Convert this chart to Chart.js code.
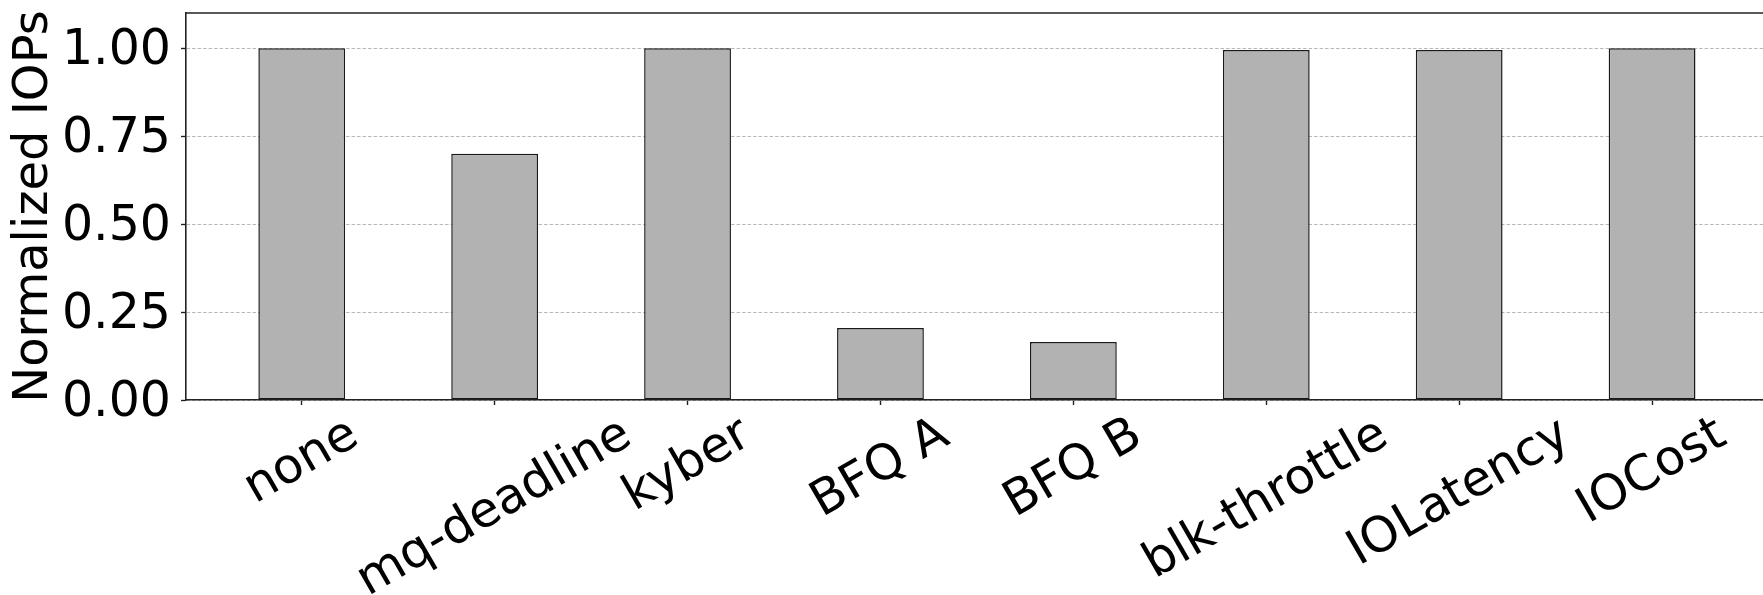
<!DOCTYPE html>
<html>
<head>
<meta charset="utf-8">
<script src="https://cdn.jsdelivr.net/npm/chart.js@4/dist/chart.umd.min.js"></script>
<style>
  html, body { margin: 0; padding: 0; background: #ffffff; }
  #wrap { width: 1763px; height: 595px; }
</style>
</head>
<body>
<div id="wrap"><canvas id="chart" width="1763" height="595"></canvas></div>
<script>
// I/O schedulers / controllers and their normalized IOPS
const schedulers = ['none', 'mq-deadline', 'kyber', 'BFQ A', 'BFQ B', 'blk-throttle', 'IOLatency', 'IOCost'];
const normalizedIops = [1.0, 0.70, 1.0, 0.205, 0.165, 0.995, 0.995, 1.0];
const yTickValues = [0, 0.25, 0.5, 0.75, 1.0];
const yTitle = 'Normalized IOPs';

const FONT = 'DejaVu Sans';
const TICK_SIZE = 49;
const TITLE_SIZE = 48;
const AXIS_COLOR = '#222222';

// Rotated category labels, centred under each tick (30 degrees)
const rotatedLabels = {
  id: 'rotatedLabels',
  afterDraw(chart) {
    const { ctx, chartArea } = chart;
    const xScale = chart.scales.x;
    const angle = 30 * Math.PI / 180;
    ctx.save();
    ctx.font = `${TICK_SIZE}px "${FONT}"`;
    ctx.fillStyle = '#000000';
    ctx.textAlign = 'center';
    ctx.textBaseline = 'middle';
    const top = chartArea.bottom + 7;
    schedulers.forEach((label, i) => {
      const m = ctx.measureText(label);
      const w = m.width;
      const h = (m.fontBoundingBoxAscent || TICK_SIZE * 0.93) + (m.fontBoundingBoxDescent || TICK_SIZE * 0.24);
      const boxH = w * Math.sin(angle) + h * Math.cos(angle);
      const cx = xScale.getPixelForValue(i);
      const cy = top + boxH / 2;
      ctx.save();
      ctx.translate(cx, cy);
      ctx.rotate(-angle);
      ctx.fillText(label, 0, 0);
      ctx.restore();
    });
    ctx.restore();
  }
};

// Top edge of the axes frame
const topFrame = {
  id: 'topFrame',
  afterDraw(chart) {
    const { ctx, chartArea } = chart;
    ctx.save();
    ctx.strokeStyle = AXIS_COLOR;
    ctx.lineWidth = 1.6;
    ctx.beginPath();
    ctx.moveTo(chartArea.left, chartArea.top);
    ctx.lineTo(chartArea.right, chartArea.top);
    ctx.stroke();
    ctx.restore();
  }
};

new Chart(document.getElementById('chart'), {
  type: 'bar',
  data: {
    datasets: [{
      data: normalizedIops.map((v, i) => ({ x: i, y: v })),
      backgroundColor: '#b2b2b2',
      borderColor: '#1a1a1a',
      borderWidth: 1.5,
      borderSkipped: false,
      categoryPercentage: 1.0,
      barPercentage: 0.45
    }]
  },
  options: {
    responsive: false,
    animation: false,
    devicePixelRatio: 1,
    layout: { padding: { top: 13, left: 0, right: 0, bottom: 0 } },
    plugins: {
      legend: { display: false },
      tooltip: { enabled: false }
    },
    scales: {
      x: {
        type: 'linear',
        offset: false,
        min: -0.6,
        max: 7.575,
        afterBuildTicks(scale) {
          scale.ticks = schedulers.map((_, i) => ({ value: i }));
        },
        afterFit(scale) {
          scale.height = 195;
          scale.paddingLeft = 0;
          scale.paddingRight = 0;
        },
        ticks: { display: false },
        grid: {
          offset: false,
          drawOnChartArea: false,
          drawTicks: true,
          tickLength: 5,
          tickColor: AXIS_COLOR,
          tickWidth: 1.4
        },
        border: { display: true, color: AXIS_COLOR, width: 1.6 }
      },
      y: {
        min: 0,
        max: 1.1,
        afterBuildTicks(scale) {
          scale.ticks = yTickValues.map(v => ({ value: v }));
        },
        afterFit(scale) {
          scale.width = 186;
          scale.paddingTop = 0;
          scale.paddingBottom = 0;
        },
        ticks: {
          color: '#000000',
          font: { family: FONT, size: TICK_SIZE },
          padding: 10,
          labelOffset: 3,
          callback: v => Number(v).toFixed(2)
        },
        grid: {
          color: '#b8b8b8',
          lineWidth: 1,
          drawTicks: true,
          tickLength: 5,
          tickColor: AXIS_COLOR,
          tickWidth: 1.4,
          tickBorderDash: []
        },
        border: { display: true, color: AXIS_COLOR, width: 1.6, dash: [3.5, 2] },
        title: {
          display: true,
          text: yTitle,
          color: '#000000',
          font: { family: FONT, size: TITLE_SIZE },
          padding: { top: 6, bottom: 0 }
        }
      }
    }
  },
  plugins: [rotatedLabels, topFrame]
});
</script>
</body>
</html>
